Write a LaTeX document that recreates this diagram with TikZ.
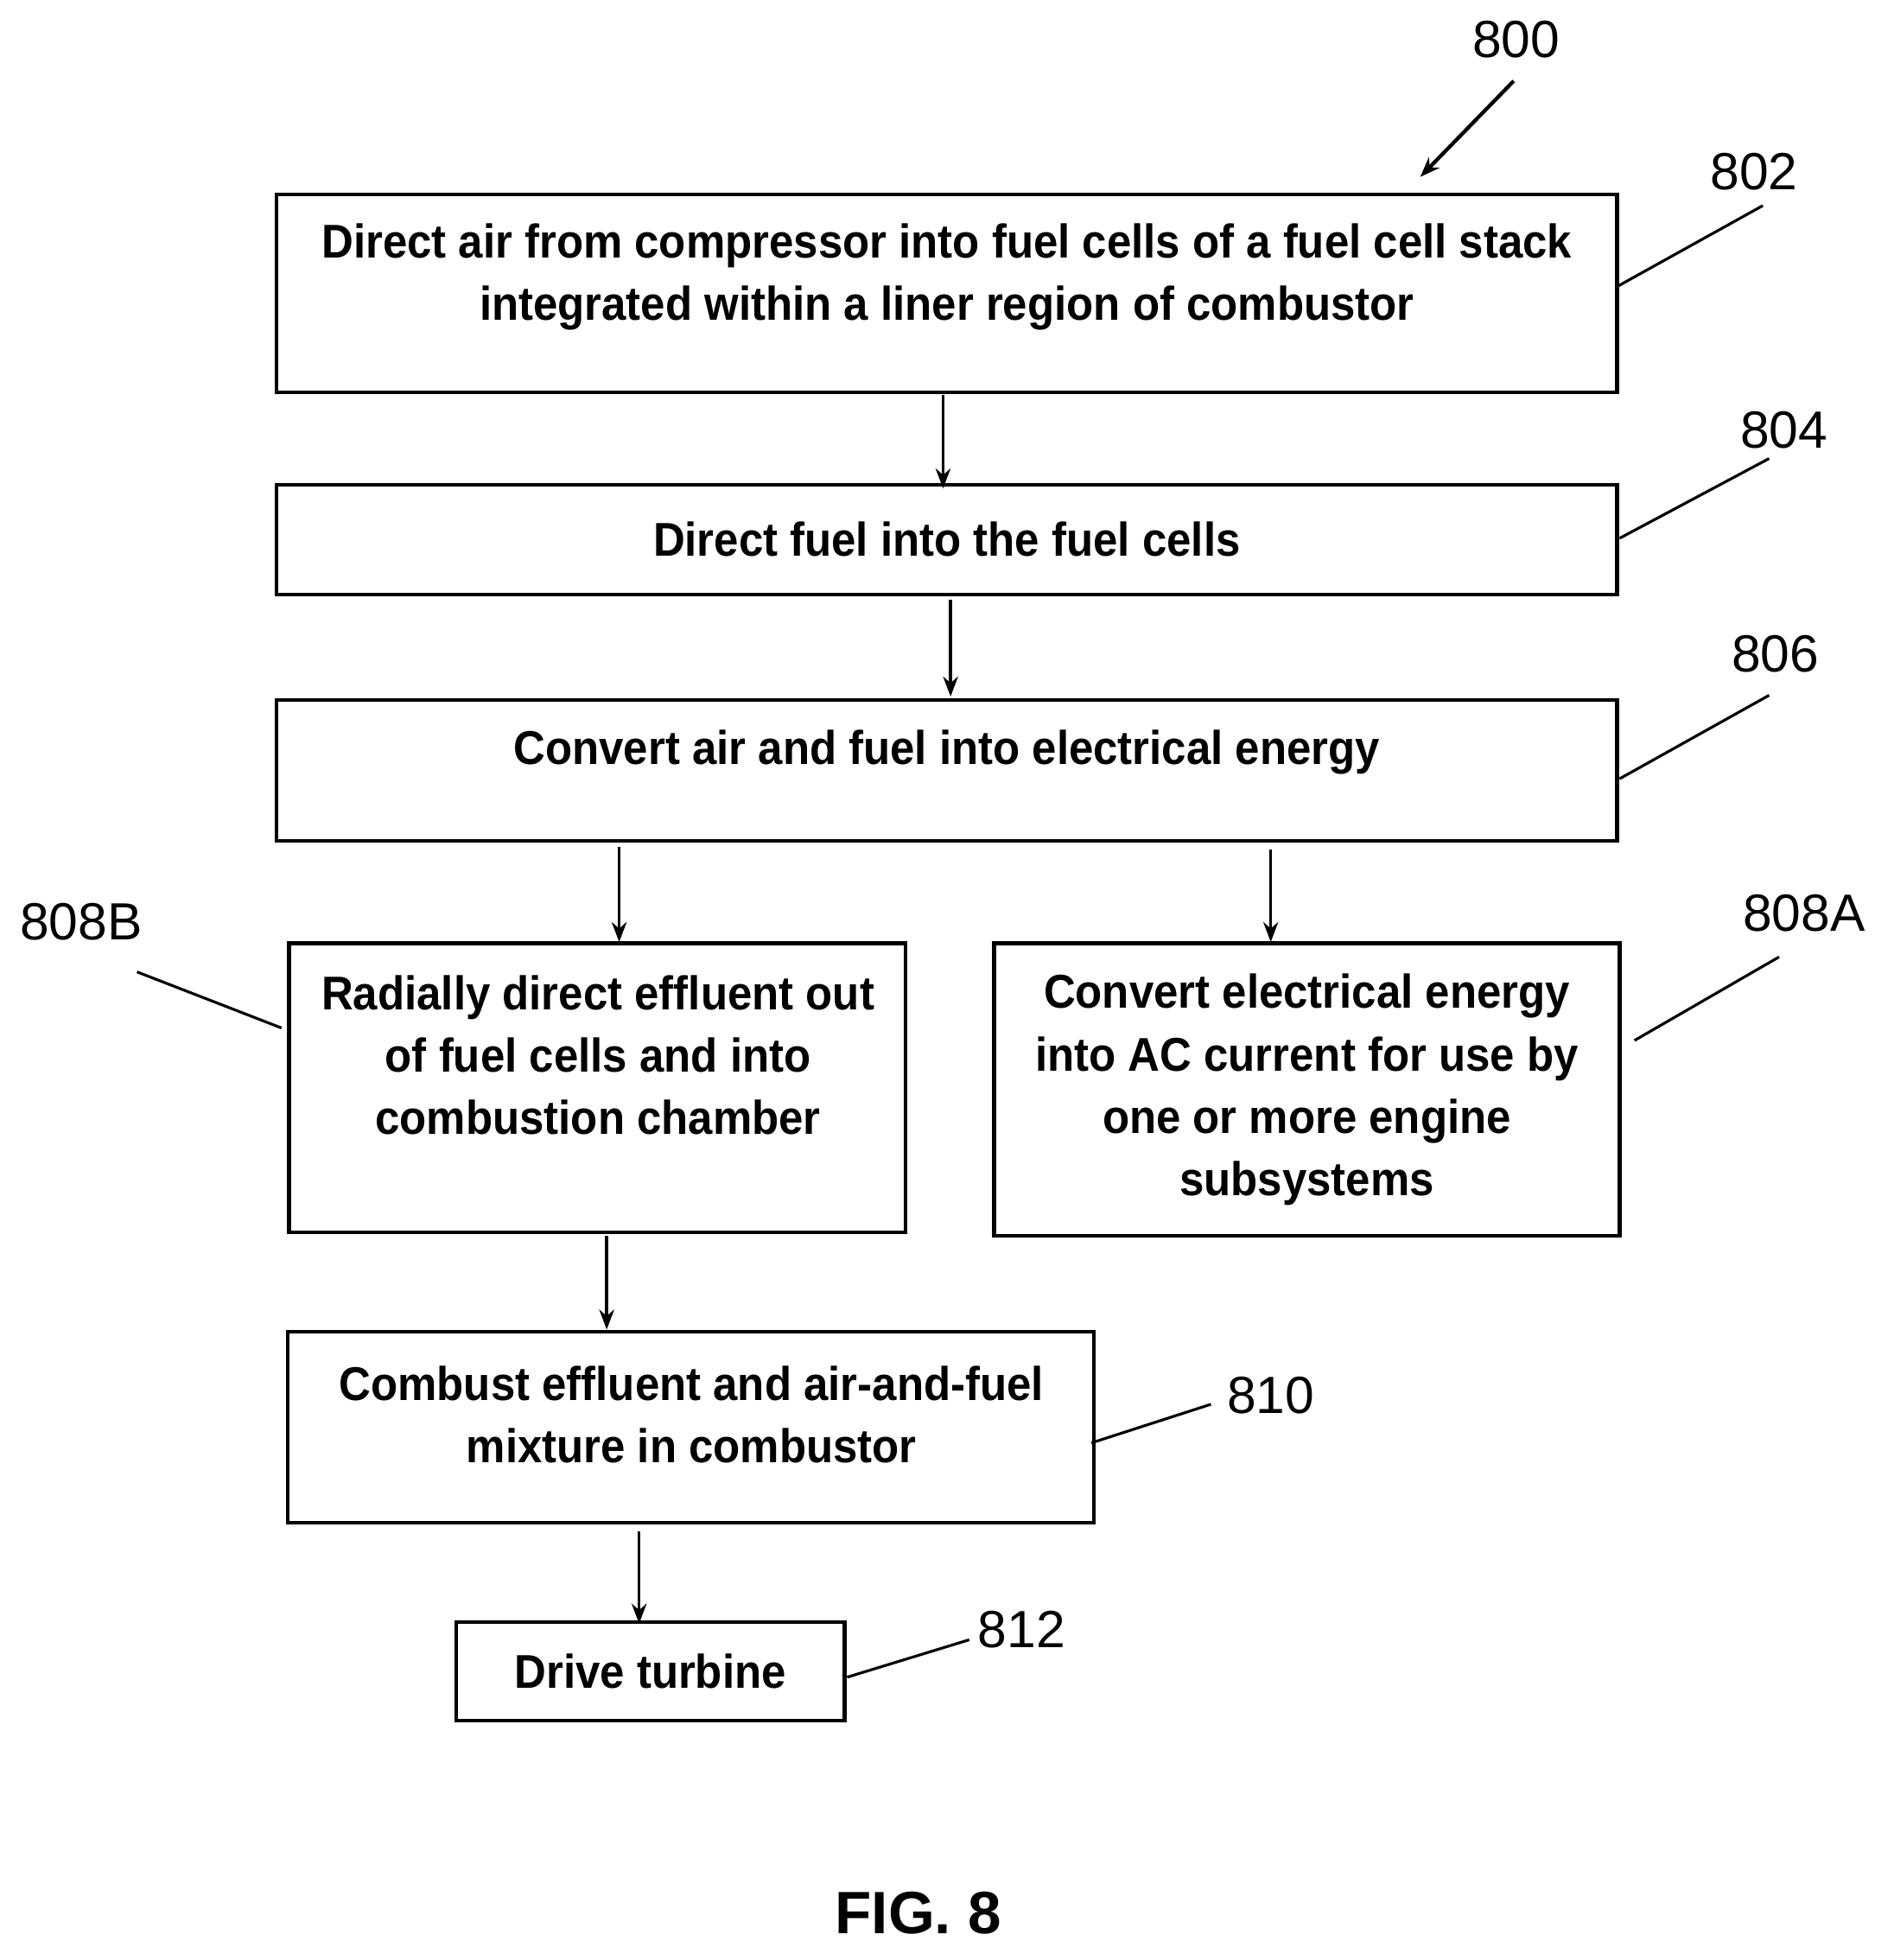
\documentclass[tikz,border=0pt]{standalone}
\usepackage{fontspec}
\setmainfont{Liberation Sans}
\newfontfamily\boxfont{Liberation Sans}[FakeStretch=0.93]
\usetikzlibrary{arrows.meta}
\tikzset{
  stepbox/.style={draw, line width=3pt, inner sep=0pt, align=center,
    font=\boxfont\bfseries\fontsize{38}{50}\selectfont},
  steptext/.style={align=center, font=\boxfont\bfseries\fontsize{38}{50}\selectfont},
  num/.style={font=\fontsize{42}{50}\selectfont},
  arr/.style={line width=2.4pt, -{Stealth[length=16pt,width=12pt]}},
  lead/.style={line width=2.2pt}
}
\begin{document}
\begin{tikzpicture}[x=1pt,y=-1pt]
    \useasboundingbox (0,0) rectangle (1520,1573);

    % process boxes
    \node[stepbox, minimum width=1076, minimum height=159] (b802) at (760,235.5) {};
    \node[steptext] (t802) at (760,222) {Direct air from compressor into fuel cells of a fuel cell stack\\integrated within a liner region of combustor};
    \node[stepbox, minimum width=1076, minimum height=88] (b804) at (760,433) {Direct fuel into the fuel cells};
    \node[stepbox, minimum width=1076, minimum height=113] (b806) at (760,618.5) {};
    \node[steptext] (t806) at (760,604) {Convert air and fuel into electrical energy};
    \node[stepbox, minimum width=495, minimum height=232] (b808B) at (479.5,873) {};
    \node[steptext] (t808B) at (480,847) {Radially direct effluent out\\of fuel cells and into\\combustion chamber};
    \node[stepbox, minimum width=502, minimum height=235] (b808A) at (1049,874.5) {Convert electrical energy\\into AC current for use by\\one or more engine\\subsystems};
    \node[stepbox, minimum width=647, minimum height=153] (b810) at (554.5,1145.5) {};
    \node[steptext] (t810) at (555,1135) {Combust effluent and air-and-fuel\\mixture in combustor};
    \node[stepbox, minimum width=312, minimum height=79] (b812) at (522,1341.5) {Drive turbine};

    % arrows
    \draw[arr] (757,317) -- (757,392);
    \draw[arr] (763,481) -- (763,559);
    \draw[arr] (497,680) -- (497,756);
    \draw[arr] (1020,682) -- (1020,756);
    \draw[arr] (487,992) -- (487,1067);
    \draw[arr] (513,1229) -- (513,1303);

    % reference numerals
    \node[num] (l800) at (1217,32) {800};
    \draw[arr, line width=3pt] (1215,65) -- (1140,142);
    \node[num] (l802) at (1408,138) {802};
    \draw[lead] (1415,165) -- (1298,230);
    \node[num] (l804) at (1432,345) {804};
    \draw[lead] (1420,368) -- (1300,432);
    \node[num] (l806) at (1425,525) {806};
    \draw[lead] (1420,558) -- (1300,625);
    \node[num] (l808B) at (65,740) {808B};
    \draw[lead] (110,780) -- (226,825);
    \node[num] (l808A) at (1448,733) {808A};
    \draw[lead] (1428,768) -- (1312,835);
    \node[num] (l810) at (1020,1120) {810};
    \draw[lead] (972,1127) -- (876,1158);
    \node[num] (l812) at (820,1308) {812};
    \draw[lead] (778,1316) -- (680,1346);

    \node[font=\bfseries\fontsize{48}{56}\selectfont] (fig) at (737,1535) {FIG. 8};
\end{tikzpicture}
\end{document}
